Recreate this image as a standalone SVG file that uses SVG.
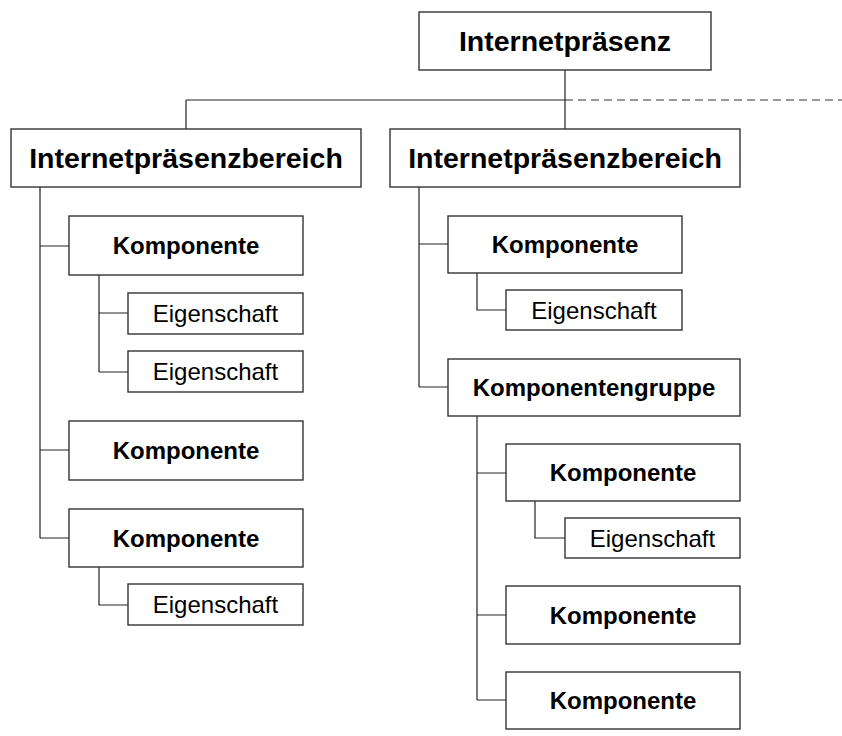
<svg xmlns="http://www.w3.org/2000/svg" width="842" height="736" viewBox="0 0 842 736">
<style>
.box{fill:#fff;stroke:#333;stroke-width:1.4}
.ln{fill:none;stroke:#222;stroke-width:1.2}
.dash{fill:none;stroke:#333;stroke-width:1.2;stroke-dasharray:8 5}
.t{font-family:"Liberation Sans",Arial,sans-serif;text-anchor:middle;fill:#000}
.h{font-size:28.5px;font-weight:bold}
.k{font-size:24px;font-weight:bold}
.e{font-size:24px}
</style>
<rect width="842" height="736" fill="#fff"/>
<g id="connectors">
<path class="ln" d="M565,70V129M186,100H565M186,100V129"/>
<path class="dash" d="M565,100H842"/>
<path class="ln" d="M40,187V538M40,246H69M40,450H69M40,538H69"/>
<path class="ln" d="M99,275V372M99,313H128M99,372H128"/>
<path class="ln" d="M99,567V605H128"/>
<path class="ln" d="M419,187V387M419,244H448M419,387H448"/>
<path class="ln" d="M477,273V310H506"/>
<path class="ln" d="M477,416V700M477,473H506M477,615H506M477,700H506"/>
<path class="ln" d="M535,501V538H565"/>
</g>
<g id="root"><rect class="box" x="419" y="12" width="292" height="58"/><text class="t h" x="565" y="51">Internetpräsenz</text></g>
<g id="bereich1"><rect class="box" x="11" y="129" width="350" height="58"/><text class="t h" x="186" y="168">Internetpräsenzbereich</text></g>
<g id="bereich2"><rect class="box" x="390" y="129" width="350" height="58"/><text class="t h" x="565" y="168">Internetpräsenzbereich</text></g>
<g id="l-k1"><rect class="box" x="69" y="216" width="234" height="59"/><text class="t k" x="186" y="254">Komponente</text></g>
<g id="l-e1"><rect class="box" x="128" y="293" width="175" height="41"/><text class="t e" x="215.5" y="322">Eigenschaft</text></g>
<g id="l-e2"><rect class="box" x="128" y="351" width="175" height="41"/><text class="t e" x="215.5" y="380">Eigenschaft</text></g>
<g id="l-k2"><rect class="box" x="69" y="421" width="234" height="59"/><text class="t k" x="186" y="459">Komponente</text></g>
<g id="l-k3"><rect class="box" x="69" y="509" width="234" height="58"/><text class="t k" x="186" y="547">Komponente</text></g>
<g id="l-e3"><rect class="box" x="128" y="584" width="175" height="41"/><text class="t e" x="215.5" y="613">Eigenschaft</text></g>
<g id="r-k1"><rect class="box" x="448" y="216" width="234" height="57"/><text class="t k" x="565" y="253">Komponente</text></g>
<g id="r-e1"><rect class="box" x="506" y="290" width="176" height="40"/><text class="t e" x="594" y="318.5">Eigenschaft</text></g>
<g id="r-kg"><rect class="box" x="448" y="359" width="292" height="57"/><text class="t k" x="594" y="396">Komponentengruppe</text></g>
<g id="r-k2"><rect class="box" x="506" y="444" width="234" height="57"/><text class="t k" x="623" y="481">Komponente</text></g>
<g id="r-e2"><rect class="box" x="565" y="518" width="175" height="40"/><text class="t e" x="652.5" y="546.5">Eigenschaft</text></g>
<g id="r-k3"><rect class="box" x="506" y="586" width="234" height="58"/><text class="t k" x="623" y="623.5">Komponente</text></g>
<g id="r-k4"><rect class="box" x="506" y="672" width="234" height="57"/><text class="t k" x="623" y="709">Komponente</text></g>
</svg>
